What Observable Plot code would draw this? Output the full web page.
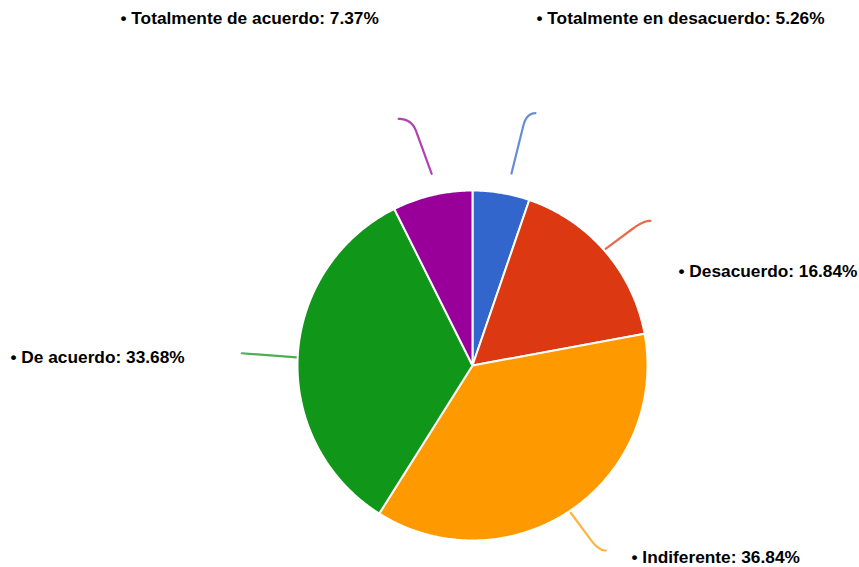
<!DOCTYPE html>
<html>
<head>
<meta charset="utf-8">
<script src="https://cdn.jsdelivr.net/npm/d3@7"></script>
<script src="https://cdn.jsdelivr.net/npm/@observablehq/plot@0.6"></script>
<style>
  html, body { margin: 0; padding: 0; background: #fff; }
  #chart svg { display: block; }
</style>
</head>
<body>
<div id="chart"></div>
<script>
// ---- data ----
const categories = ["Totalmente en desacuerdo", "Desacuerdo", "Indiferente", "De acuerdo", "Totalmente de acuerdo"];
const values = [5.26, 16.84, 36.84, 33.68, 7.37];
const colors = ["#3366cc", "#dc3912", "#ff9900", "#109618", "#990099"];

// ---- layout ----
const W = 859, H = 567;
const cx = 472, cy = 365, R = 175;
// label anchor (left x, middle y) per slice
const labelPos = [[536, 18], [678, 271], [631, 557], [10, 357], [120, 18]];
// leader: [start radius, start angle offset (deg), corner radius, corner angle offset (deg), hook dx]
const leader = [
  [196, 2.0, 258, 2.6, 9],
  [177, -0.5, 224, 0.5, 7],
  [177, 0.4, 224, -0.2, 7],
  [176, -0.2, 231, 0.2, 0],
  [196, 1.25, 254, -0.6, -13]
];

const pie = d3.pie().sort(null).value(d => d)(values);
const pt = (a, r) => [cx + r * Math.sin(a), cy - r * Math.cos(a)];
const deg = Math.PI / 180;

const slicePts = [];
pie.forEach((p, i) => {
  slicePts.push({i, x: cx, y: cy});
  const n = Math.max(4, Math.ceil((p.endAngle - p.startAngle) / (Math.PI / 360)));
  for (let k = 0; k <= n; k++) {
    const a = p.startAngle + (p.endAngle - p.startAngle) * k / n;
    const [x, y] = pt(a, R);
    slicePts.push({i, x, y});
  }
  slicePts.push({i, x: cx, y: cy});
});

const leaderPts = [];
pie.forEach((p, i) => {
  const a = (p.startAngle + p.endAngle) / 2;
  const [r0, o0, r1, o1, hx] = leader[i];
  const [x0, y0] = pt(a + o0 * deg, r0);
  const [x1, y1] = pt(a + o1 * deg, r1);
  leaderPts.push({i, x: x0, y: y0});
  if (hx === 0) { leaderPts.push({i, x: x1, y: y1}); return; }
  const len = Math.hypot(x1 - x0, y1 - y0);
  const k = 13;
  const ax = x1 - (x1 - x0) / len * k, ay = y1 - (y1 - y0) / len * k;
  const bx = x1 + hx, by = y1;
  leaderPts.push({i, x: ax, y: ay});
  const n = 16;
  for (let j = 1; j <= n; j++) {
    const t = j / n, u = 1 - t;
    leaderPts.push({i, x: u * u * ax + 2 * u * t * x1 + t * t * bx, y: u * u * ay + 2 * u * t * y1 + t * t * by});
  }
});

const labels = categories.map((c, i) => ({
  text: "• " + c + ": " + values[i].toFixed(2) + "%",
  x: labelPos[i][0], y: labelPos[i][1]
}));

const chart = Plot.plot({
  width: W, height: H,
  margin: 0,
  x: {domain: [0, W], range: [0, W], axis: null},
  y: {domain: [0, H], range: [0, H], axis: null},
  style: {background: "#fff"},
  marks: [
    Plot.line(leaderPts, {x: "x", y: "y", z: "i", stroke: d => colors[d.i], strokeWidth: 2.2, curve: "linear", strokeOpacity: 0.75, strokeLinecap: "round"}),
    Plot.line(slicePts, {x: "x", y: "y", z: "i", fill: d => colors[d.i], stroke: "#fff", strokeWidth: 2, strokeLinejoin: "round", curve: "linear"}),
    Plot.text(labels, {x: "x", y: "y", text: "text", textAnchor: "start", lineAnchor: "middle",
      fontSize: 17.3, fontWeight: "bold", fontFamily: "Liberation Sans, Arial, sans-serif", fill: "#000"})
  ]
});
document.getElementById("chart").appendChild(chart);
</script>
</body>
</html>
